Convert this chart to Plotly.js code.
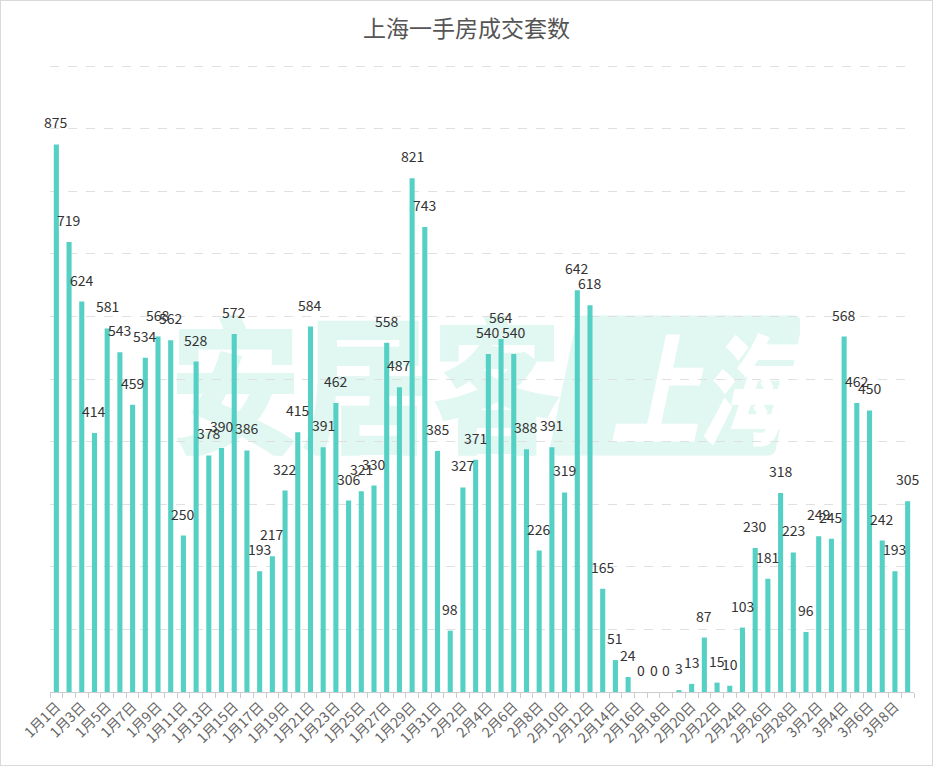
<!DOCTYPE html>
<html>
<head>
<meta charset="utf-8">
<script src="https://cdn.plot.ly/plotly-3.0.1.min.js"></script>
<style>
  html, body { margin: 0; padding: 0; background: #fff; }
  #chart { width: 933px; height: 766px; box-sizing: border-box; border: 1px solid #d9d9d9; }
</style>
</head>
<body>
<div id="chart"></div>
<script>
// daily counts, one array per month
var janCounts = [875, 719, 624, 414, 581, 543, 459, 534, 568, 562, 250, 528, 378, 390, 572, 386,
                 193, 217, 322, 415, 584, 391, 462, 306, 321, 330, 558, 487, 821, 743, 385];
var febCounts = [98, 327, 371, 540, 564, 540, 388, 226, 391, 319, 642, 618, 165, 51, 24, 0,
                 0, 0, 3, 13, 87, 15, 10, 103, 230, 181, 318, 223];
var marCounts = [96, 249, 245, 568, 462, 450, 242, 193, 305];
var monthNames = ['1月', '2月', '3月'];

var dates = [];
var counts = [];
[janCounts, febCounts, marCounts].forEach(function(arr, m) {
    arr.forEach(function(v, i) {
        dates.push(monthNames[m] + (i + 1) + '日');
        counts.push(v);
    });
});

// every other date gets a label
var tickText = dates.map(function(d, i) { return i % 2 === 0 ? d : ''; });

var trace = {
    x: dates,
    y: counts,
    type: 'bar',
    marker: { color: '#55d0c4' },
    hoverinfo: 'x+y'
};

var labels = dates.map(function(d, i) {
    return {
        x: d,
        y: counts[i],
        text: String(counts[i]),
        showarrow: false,
        yanchor: 'bottom',
        yshift: 10,
        font: { family: 'Noto Sans CJK SC, sans-serif', size: 14, color: '#333' }
    };
});

// faint logo behind the bars
var wmColor = '#e1f7f1';
var watermark = '<svg xmlns="http://www.w3.org/2000/svg" width="630" height="140" viewBox="0 0 630 140">' +
    '<text x="0" y="0" font-family="Noto Sans CJK SC" font-weight="900" font-size="152" ' +
    'fill="' + wmColor + '" transform="translate(0,128) scale(0.86,1)">安居客</text>' +
    '<path d="M 414 8 L 624 8 L 598 132 L 388 132 Z" fill="' + wmColor + '" stroke="' + wmColor + '" ' +
    'stroke-width="16" stroke-linejoin="round"/>' +
    '<text x="0" y="0" font-family="Noto Sans CJK SC" font-weight="900" font-size="120" ' +
    'fill="#ffffff" transform="translate(440,120) skewX(-12) scale(0.74,1)">上海</text>' +
    '</svg>';

var layout = {
    width: 931,
    height: 764,
    margin: { l: 49, r: 18, t: 59, b: 73 },
    paper_bgcolor: '#fff',
    plot_bgcolor: '#fff',
    showlegend: false,
    bargap: 0.6,
    title: {
        text: '上海一手房成交套数',
        x: 0.5,
        xanchor: 'center',
        y: 0.964,
        yanchor: 'middle',
        font: { family: 'Noto Sans CJK SC, sans-serif', size: 23, color: '#555' }
    },
    xaxis: {
        type: 'category',
        automargin: false,
        range: [-0.5, dates.length - 0.5],
        tickmode: 'array',
        tickvals: dates,
        ticktext: tickText,
        tickson: 'boundaries',
        ticks: 'outside',
        ticklen: 5,
        tickcolor: '#ccc',
        tickangle: -45,
        tickfont: { family: 'Noto Sans CJK SC, sans-serif', size: 14, color: '#666' },
        showline: true,
        linecolor: '#ccc',
        showgrid: false,
        fixedrange: true
    },
    yaxis: {
        automargin: false,
        range: [0, 1010],
        dtick: 100,
        showticklabels: false,
        showgrid: true,
        gridcolor: '#e0e0e0',
        griddash: 'dash',
        zeroline: false,
        fixedrange: true
    },
    annotations: labels,
    images: [{
        source: 'data:image/svg+xml;charset=utf-8,' + encodeURIComponent(watermark),
        xref: 'paper', yref: 'paper',
        x: 0.139, y: 0.596,
        sizex: 0.729, sizey: 0.222,
        xanchor: 'left', yanchor: 'top',
        sizing: 'stretch',
        layer: 'below'
    }]
};

Plotly.newPlot('chart', [trace], layout, { displayModeBar: false, staticPlot: true });
</script>
</body>
</html>
